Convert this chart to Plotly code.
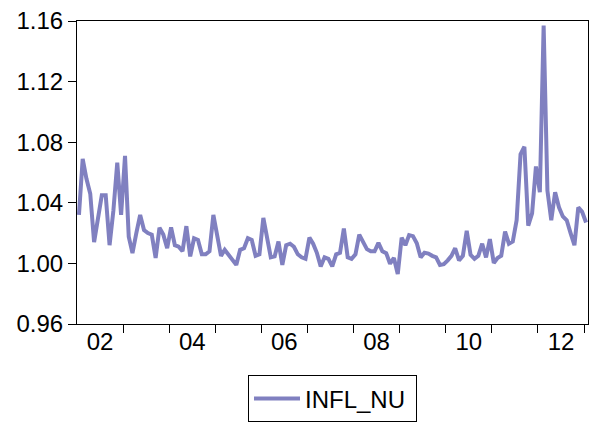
import pandas as pd
import plotly.graph_objects as go

# Monthly series, 2002M01 .. 2013M01
start_month = "2002-01-01"
infl_nu = [
    1.032, 1.069, 1.056, 1.046, 1.014, 1.030, 1.045, 1.045, 1.012, 1.035,
    1.0665, 1.032, 1.071, 1.0176, 1.0068, 1.020, 1.032, 1.022, 1.020, 1.019,
    1.0036, 1.0235, 1.019, 1.010, 1.0237, 1.012, 1.011, 1.008, 1.0246, 1.0046,
    1.0166, 1.0155, 1.006, 1.006, 1.008, 1.032, 1.018, 1.005, 1.009, 1.006,
    1.003, 0.999, 1.009, 1.010, 1.0166, 1.0155, 1.005, 1.006, 1.030, 1.0155,
    1.004, 1.0046, 1.0144, 0.999, 1.012, 1.013, 1.011, 1.006, 1.004, 1.003,
    1.017, 1.013, 1.007, 0.998, 1.004, 1.003, 0.998, 1.006, 1.007, 1.023,
    1.004, 1.003, 1.006, 1.019, 1.0137, 1.0094, 1.008, 1.008, 1.0136, 1.008,
    1.0068, 0.9998, 1.0036, 0.993, 1.017, 1.012, 1.0187, 1.018, 1.0133, 1.004,
    1.007, 1.0065, 1.005, 1.004, 0.999, 0.9995, 1.002, 1.005, 1.010, 1.002,
    1.005, 1.0215, 1.0057, 1.003, 1.005, 1.013, 1.004, 1.016, 1.0003, 1.0036,
    1.005, 1.021, 1.013, 1.0144, 1.0285, 1.072, 1.077, 1.025, 1.033, 1.064,
    1.047, 1.157, 1.048, 1.0285, 1.047, 1.037, 1.031, 1.0285, 1.020, 1.012,
    1.037, 1.034, 1.027,
]
series_name = "INFL_NU"

year_labels = ["02", "04", "06", "08", "10", "12"]
y_ticks = [0.96, 1.00, 1.04, 1.08, 1.12, 1.16]

months = pd.date_range(start_month, periods=len(infl_nu), freq="MS")
axis_end = months[-1] + pd.offsets.MonthBegin(1)

# labels sit in the middle of the even years, ticks mark each January
label_pos = [pd.Timestamp(f"20{s}-07-02") for s in year_labels]
year_starts = pd.date_range("2003-01-01", "2013-01-01", freq="YS")

font_family = "Liberation Sans, Arial, sans-serif"
line_color = "#8080C0"

fig = go.Figure(
    go.Scatter(
        x=months,
        y=infl_nu,
        xperiod="M1",
        xperiodalignment="middle",
        mode="lines",
        name=series_name,
        line=dict(color=line_color, width=4),
        showlegend=True,
    )
)

fig.update_layout(
    width=596,
    height=430,
    margin=dict(l=77, r=7, t=18, b=105),
    paper_bgcolor="white",
    plot_bgcolor="white",
    font=dict(family=font_family, size=24, color="black"),
    showlegend=True,
    legend=dict(
        orientation="h",
        x=0.5,
        xanchor="center",
        y=-0.325,
        yanchor="bottom",
        bordercolor="black",
        borderwidth=1,
        itemwidth=46,
        entrywidth=106,
        font=dict(size=24),
    ),
)

fig.update_xaxes(
    type="date",
    range=[months[0], axis_end],
    tickmode="array",
    tickvals=label_pos,
    ticktext=year_labels,
    ticks="",
    ticklabelstandoff=-4,
    minor=dict(
        tickmode="array",
        tickvals=list(year_starts),
        ticks="outside",
        ticklen=8,
        tickcolor="black",
        tickwidth=1,
        showgrid=False,
    ),
    showline=True,
    linecolor="black",
    linewidth=1,
    mirror=True,
    showgrid=False,
    zeroline=False,
)

fig.update_yaxes(
    range=[0.96, 1.16],
    tickmode="array",
    tickvals=y_ticks,
    ticktext=[f"{v:.2f}" for v in y_ticks],
    ticks="outside",
    ticklen=8,
    tickcolor="black",
    tickwidth=1,
    showline=True,
    linecolor="black",
    linewidth=1,
    mirror=True,
    showgrid=False,
    zeroline=False,
)

fig.write_html("out.html")
